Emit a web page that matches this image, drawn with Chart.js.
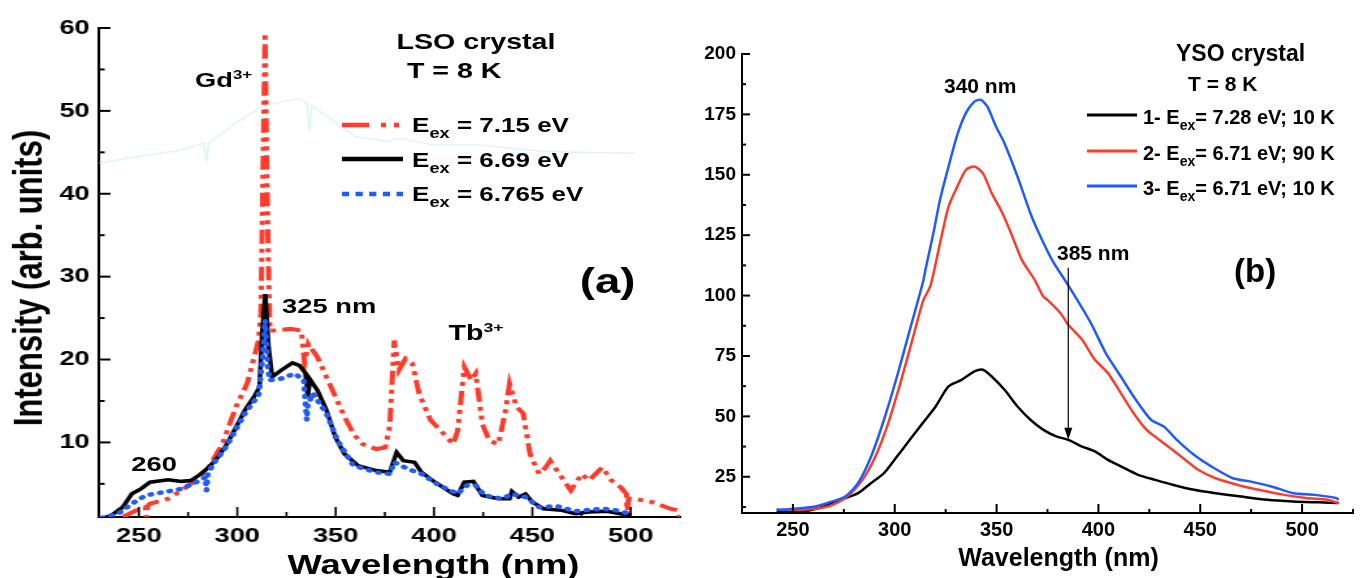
<!DOCTYPE html>
<html>
<head>
<meta charset="utf-8">
<script src="https://cdn.jsdelivr.net/npm/chart.js@4.4.1/dist/chart.umd.min.js"></script>
<style>
  body { margin: 0; background: #fff; width: 1365px; height: 578px; overflow: hidden; position: relative;
         font-family: "Liberation Sans", Arial, sans-serif; font-weight: bold; color: #000; }
  #panelA { position: absolute; left: 0; top: 0; width: 531px; height: 578px; transform: scaleX(1.3); transform-origin: 0 0; }
  #panelB { position: absolute; left: 690px; top: 0; width: 675px; height: 578px; }
  canvas { position: absolute; left: 0; top: 0; }
  .t { position: absolute; white-space: nowrap; line-height: 1; }
  .t sub { font-size: 0.7em; position: relative; top: 0.45em; vertical-align: baseline; line-height: 0; }
  .t sup { font-size: 0.62em; position: relative; top: -0.62em; vertical-align: baseline; line-height: 0; }
  svg { position: absolute; overflow: visible; }
</style>
</head>
<body>
<div id="panelA">
  <canvas id="lsoChart" width="531" height="578"></canvas>
  <div class="t" style="left:305px;top:31px;font-size:22px">LSO crystal</div>
  <div class="t" style="left:313px;top:60px;font-size:22px">T = 8 K</div>
  <div class="t" style="left:150px;top:69px;font-size:21px">Gd<sup>3+</sup></div>
  <svg style="left:263px;top:115px" width="48" height="90">
    <line x1="0" y1="10" x2="47" y2="10" stroke="#ff3b2b" stroke-width="4.5" stroke-dasharray="21 9 4 6 4 6"/>
    <line x1="0" y1="44" x2="47" y2="44" stroke="#000" stroke-width="4.5"/>
    <line x1="0" y1="79" x2="47" y2="79" stroke="#1f5bff" stroke-width="4.5" stroke-dasharray="5.5 5"/>
  </svg>
  <div class="t" style="left:317px;top:115px;font-size:20px">E<sub>ex</sub> = 7.15 eV</div>
  <div class="t" style="left:317px;top:150px;font-size:20px">E<sub>ex</sub> = 6.69 eV</div>
  <div class="t" style="left:317px;top:184px;font-size:20px">E<sub>ex</sub> = 6.765 eV</div>
  <div class="t" style="left:446px;top:263px;font-size:35px">(a)</div>
  <div class="t" style="left:217px;top:295px;font-size:21px">325 nm</div>
  <div class="t" style="left:345px;top:322px;font-size:22px">Tb<sup>3+</sup></div>
  <div class="t" style="left:101px;top:453px;font-size:21px">260</div>
  <div class="t" style="left:21.6px;top:277.5px;font-size:31px;transform:translate(-50%,-50%) rotate(-90deg)">Intensity (arb. units)</div>
  <div class="t" style="left:333.5px;top:551px;font-size:28px;transform:translateX(-50%)">Wavelength (nm)</div>
</div>

<div id="panelB">
  <canvas id="ysoChart" width="675" height="578"></canvas>
  <div class="t" style="left:486px;top:42px;font-size:23px">YSO crystal</div>
  <div class="t" style="left:498px;top:73px;font-size:21px">T = 8 K</div>
  <div class="t" style="left:254px;top:75px;font-size:21px">340 nm</div>
  <div class="t" style="left:367px;top:242px;font-size:21px">385 nm</div>
  <div class="t" style="left:544px;top:254px;font-size:33px">(b)</div>
  <svg style="left:397px;top:105px" width="52" height="90">
    <line x1="0" y1="10" x2="50" y2="10" stroke="#000" stroke-width="3"/>
    <line x1="0" y1="46" x2="50" y2="46" stroke="#ff3b2b" stroke-width="3"/>
    <line x1="0" y1="81" x2="50" y2="81" stroke="#1f5bff" stroke-width="3"/>
  </svg>
  <div class="t" style="left:453px;top:107px;font-size:20px">1- E<sub>ex</sub>= 7.28 eV; 10 K</div>
  <div class="t" style="left:453px;top:143px;font-size:20px">2- E<sub>ex</sub>= 6.71 eV; 90 K</div>
  <div class="t" style="left:453px;top:178px;font-size:20px">3- E<sub>ex</sub>= 6.71 eV; 10 K</div>
  <div class="t" style="left:368.5px;top:545px;font-size:25px;transform:translateX(-50%)">Wavelength (nm)</div>
</div>

<script>
// ---- (a) LSO crystal, T = 8 K ----
const redWl = [241.8, 248.7, 253.2, 253.8, 254.4, 255.6, 264.8, 271.7, 278.6, 285.5, 292.4, 299.3, 305, 310.8, 312, 313.2, 314.1, 315, 316.5, 320, 326.9, 332.6, 334.2, 336.1, 340.7, 345.3, 349.9, 354.5, 359.1, 363.7, 370.6, 375.2, 377.5, 379.8, 382.1, 385.5, 389, 392.4, 398.2, 405.1, 409.7, 412, 415.4, 418.9, 421.2, 424.6, 428.1, 432.7, 436.1, 438.4, 441.9, 445.3, 448.8, 453.4, 456.8, 459.1, 463.7, 469.5, 475.2, 478.7, 485.6, 490.2, 494.8, 497.8, 498.2, 498.8, 501.7, 510.9, 520.1, 524, 525];
const redI = [1.0, 1.8, 2.2, 1.0, 2.3, 2.6, 3.2, 4.2, 5.4, 7.0, 9.8, 14.3, 17.1, 22.3, 25.5, 45, 59.4, 42, 23.5, 23.5, 23.7, 23.5, 19.5, 21.9, 20.3, 17.9, 15.5, 13.1, 11.0, 9.8, 9.2, 9.4, 12, 22.3, 18.7, 20.1, 19.5, 15.9, 12.7, 11.0, 9.8, 11.4, 19.1, 17.5, 18.3, 12.2, 10.2, 9.8, 13.5, 17.1, 14.3, 13.5, 8.6, 6.2, 7.0, 7.8, 6.2, 4.2, 6.2, 5.4, 7.0, 5.4, 4.6, 3.8, 1.2, 3.2, 3.2, 2.8, 2.0, 1.8, 1.0];

const blackWl = [232, 236, 241.8, 246.4, 251, 255.6, 264.8, 271.7, 276.3, 280.9, 285.5, 290.1, 294.7, 299.3, 303.9, 308.5, 311.3, 312.6, 314.2, 315.9, 317.7, 322.3, 328, 331.5, 334.9, 335.8, 337, 340.7, 345.3, 349.9, 354.5, 361.4, 370.6, 377.5, 381, 384.4, 390.1, 393.6, 400.5, 409.7, 412, 415.4, 420, 424.6, 432.7, 438.4, 439.6, 443, 446.5, 450, 455.7, 464.9, 471.8, 478.7, 487.9, 494.8, 500.5];
const blackI = [0.9, 1.2, 2.2, 3.8, 4.4, 5.2, 5.5, 5.3, 5.4, 6.1, 7.0, 8.2, 9.8, 11.8, 13.9, 15.5, 16.7, 23.1, 27.9, 21.5, 17.9, 18.7, 19.6, 19.3, 18.3, 15.5, 17.6, 16.3, 13.9, 10.6, 8.6, 7.2, 6.6, 6.4, 8.8, 7.8, 7.6, 6.4, 5.2, 3.8, 3.6, 5.2, 5.3, 3.6, 3.2, 3.2, 4.1, 3.4, 3.8, 2.8, 2.0, 1.8, 1.4, 1.6, 1.7, 1.4, 1.2];

const blueWl = [231, 239.5, 246.4, 253.3, 262.5, 271.7, 280.9, 283.8, 284.3, 285, 287.8, 294.7, 303.9, 310.8, 312.8, 314.2, 315.5, 316.5, 322.3, 329.2, 333.8, 335.3, 335.8, 338.4, 345.3, 351, 359.1, 370.6, 377.5, 379.8, 386.7, 393.6, 402.8, 412, 416.6, 421.2, 425.8, 435, 439.6, 446.5, 453.4, 462.6, 471.8, 485.6, 492.5, 499.4];
const blueI = [0.9, 1.4, 2.6, 3.6, 4.0, 4.4, 5.4, 5.8, 4.2, 6.2, 7.4, 9.6, 13.5, 15.7, 20, 24.7, 19, 17.5, 17.7, 18.3, 17.5, 12.7, 14.5, 15.9, 13.5, 10.2, 7.2, 6.4, 6.2, 7.6, 6.8, 6.2, 4.8, 3.8, 4.8, 4.8, 3.6, 3.2, 3.8, 3.4, 2.2, 2.3, 1.7, 2.0, 1.8, 1.4];

// faint cyan trace visible behind the legend
const ghostWl = [230, 255, 270, 283, 284.3, 285.5, 299, 313, 327, 331.5, 335.5, 336.5, 338, 346, 360, 376, 383, 399, 422, 456, 502];
const ghostI = [43.7, 44.7, 45.2, 46.1, 43.8, 46.1, 48.5, 50.6, 51.3, 51.5, 51.0, 47.5, 50.6, 49.3, 46.9, 46.3, 46.7, 45.9, 45.9, 45.1, 44.9];

const lsoXTicks = [250, 275, 300, 325, 350, 375, 400, 425, 450, 475, 500];
const lsoYTicks = [5, 10, 15, 20, 25, 30, 35, 40, 45, 50, 55, 60];

// ---- (b) YSO crystal, T = 8 K ----
const yso1Wl = [242, 254.5, 265.1, 273.6, 282, 288.4, 294.7, 301.1, 307.4, 313.7, 320.1, 326.4, 332.8, 339.1, 343.3, 347.6, 353.9, 360.3, 366.6, 373, 379.3, 385.2, 392, 398.3, 404.7, 411, 419.5, 427.9, 436.4, 446.9, 457.5, 470.2, 482.9, 495.6, 508.2, 518];
const yso1I = [10.6, 10.6, 12.7, 15.5, 18.2, 22.4, 26.5, 33.4, 40.3, 47.2, 54.1, 62.4, 65.1, 68.6, 69.3, 66.5, 61, 54.1, 48.6, 44.4, 41.7, 40.3, 37.5, 35.5, 32, 29.3, 25.8, 23.7, 21.7, 19.6, 18.2, 16.8, 15.5, 14.8, 14.4, 14.1];

const yso2Wl = [242, 254.5, 267.2, 275.7, 284.1, 290.5, 296.8, 303.2, 309.5, 314, 317.5, 322.2, 326.4, 330.7, 334.9, 339.1, 343.3, 347.6, 352.9, 357.1, 362.4, 368.7, 372.9, 375, 381.4, 385.2, 392, 398.3, 404.7, 411, 417.3, 423.7, 432.1, 440.6, 449, 457.5, 468.1, 478.6, 491.3, 501.9, 512.5, 518];
const yso2I = [11.3, 11.3, 12.7, 16.2, 23.7, 33.4, 47.2, 65.1, 84.4, 98, 104, 121.6, 136.8, 145.1, 152, 153.4, 150.6, 142.4, 134.1, 125.8, 114.8, 106.5, 99.6, 98.2, 92.7, 87.9, 81.7, 73.4, 67.9, 59.6, 51.3, 44.4, 38.9, 33.4, 27.9, 24.4, 21.7, 19.6, 17.5, 16.2, 15.5, 14.1];

const yso3Wl = [242, 248.2, 260.9, 269.3, 275.7, 282, 288.4, 294.7, 301.1, 307.4, 313.7, 315.4, 319, 322.2, 326.4, 330.7, 334.9, 339.1, 342.3, 345.5, 349.7, 353.9, 360.3, 366.6, 370.8, 377.2, 385.6, 396.3, 403.6, 411, 417.3, 425.8, 432.1, 438.5, 446.9, 455.4, 466, 474.4, 485, 495.6, 506.1, 516.7, 518];
const yso3I = [11.3, 11.6, 12.7, 14.8, 16.8, 22.4, 33.4, 48.6, 66.5, 85.8, 105.1, 112, 126, 139.6, 153.4, 166.5, 175.5, 180.3, 181, 178.2, 170, 163, 149.2, 134.1, 125.8, 114.8, 103.7, 88.6, 76.2, 66.5, 58.2, 48.6, 45.8, 40.3, 34.1, 29.3, 24.4, 23.1, 21, 18.2, 17.5, 16.2, 15.5];

const ysoXTicks = [250, 275, 300, 325, 350, 375, 400, 425, 450, 475, 500, 525];
const ysoYTicks = [12.5, 25, 37.5, 50, 62.5, 75, 87.5, 100, 112.5, 125, 137.5, 150, 162.5, 175, 187.5, 200];

const RED = '#ff3b2b';
const BLUE = '#1f5bff';
const FONT = "'Liberation Sans', Arial, sans-serif";

function pts(xs, ys) {
    return xs.map((x, i) => ({ x: x, y: ys[i] }));
}
function isMajor(v, step) {
    return Math.abs(v / step - Math.round(v / step)) < 1e-6;
}

// tick marks drawn inward, long for labelled ticks, short for the others
const inwardTicks = {
    id: 'inwardTicks',
    afterDraw(chart, args, opts) {
        const ctx = chart.ctx;
        const area = chart.chartArea;
        ctx.save();
        ctx.strokeStyle = '#000';
        ['x', 'y'].forEach(id => {
            const s = chart.scales[id];
            const o = opts[id];
            ctx.lineWidth = o.width;
            s.ticks.forEach(t => {
                const len = isMajor(t.value, o.step) ? o.long : o.short;
                const p = s.getPixelForValue(t.value);
                ctx.beginPath();
                if (id === 'x') {
                    ctx.moveTo(p, area.bottom);
                    ctx.lineTo(p, area.bottom - len);
                } else {
                    ctx.moveTo(area.left, p);
                    ctx.lineTo(area.left + len, p);
                }
                ctx.stroke();
            });
        });
        ctx.restore();
    }
};

// the 385 nm arrow of panel (b)
const markArrow = {
    id: 'markArrow',
    afterDatasetsDraw(chart, args, opts) {
        if (!opts.x) return;
        const ctx = chart.ctx;
        const x = chart.scales.x.getPixelForValue(opts.x);
        const y0 = chart.scales.y.getPixelForValue(opts.from);
        const y1 = chart.scales.y.getPixelForValue(opts.to);
        ctx.save();
        ctx.strokeStyle = '#000';
        ctx.fillStyle = '#000';
        ctx.lineWidth = 1.2;
        ctx.beginPath();
        ctx.moveTo(x, y0);
        ctx.lineTo(x, y1 - 8);
        ctx.stroke();
        ctx.beginPath();
        ctx.moveTo(x, y1);
        ctx.lineTo(x - 4, y1 - 12);
        ctx.lineTo(x + 4, y1 - 12);
        ctx.closePath();
        ctx.fill();
        ctx.restore();
    }
};

function axis(min, max, tickList, step, fontSize, pad, fit) {
    return {
        type: 'linear',
        min: min,
        max: max,
        afterBuildTicks: s => { s.ticks = tickList.map(v => ({ value: v })); },
        afterFit: fit,
        grid: { display: false, drawTicks: false },
        border: { display: true, color: '#000', width: 2 },
        ticks: {
            autoSkip: false,
            padding: pad,
            color: '#000',
            font: { family: FONT, size: fontSize, weight: 'bold' },
            callback: v => isMajor(v, step) ? String(v) : ''
        }
    };
}

new Chart(document.getElementById('lsoChart'), {
    type: 'line',
    data: {
        datasets: [
            { label: 'Eex = 6.765 eV', data: pts(blueWl, blueI), borderColor: BLUE, borderWidth: 4.5, borderDash: [1, 6.5], borderCapStyle: 'round' },
            { label: 'Eex = 6.69 eV', data: pts(blackWl, blackI), borderColor: '#000', borderWidth: 3.5 },
            { label: 'Eex = 7.15 eV', data: pts(redWl, redI), borderColor: RED, borderWidth: 4, borderDash: [14, 5, 4, 5, 4, 5] },
            { label: 'trace', data: pts(ghostWl, ghostI), borderColor: '#dcf5f8', borderWidth: 1.5 }
        ]
    },
    options: {
        responsive: false,
        animation: false,
        layout: { padding: { left: 0, top: 28, right: 8, bottom: 0 } },
        elements: { point: { radius: 0 }, line: { tension: 0 } },
        scales: {
            x: axis(229.6, 525, lsoXTicks, 50, 21, 7, s => { s.height = 61; }),
            y: axis(1, 60, lsoYTicks, 10, 21, 7, s => { s.width = 76; })
        },
        plugins: {
            legend: { display: false },
            tooltip: { enabled: false },
            inwardTicks: {
                x: { step: 50, long: 10, short: 5, width: 1.6 },
                y: { step: 10, long: 9, short: 4.5, width: 2 }
            }
        }
    },
    plugins: [inwardTicks]
});

new Chart(document.getElementById('ysoChart'), {
    type: 'line',
    data: {
        datasets: [
            { label: '3- Eex= 6.71 eV; 10 K', data: pts(yso3Wl, yso3I), borderColor: BLUE, borderWidth: 2.5 },
            { label: '2- Eex= 6.71 eV; 90 K', data: pts(yso2Wl, yso2I), borderColor: RED, borderWidth: 2.5 },
            { label: '1- Eex= 7.28 eV; 10 K', data: pts(yso1Wl, yso1I), borderColor: '#000', borderWidth: 2.5 }
        ]
    },
    options: {
        responsive: false,
        animation: false,
        layout: { padding: { left: 0, top: 54, right: 12, bottom: 0 } },
        elements: { point: { radius: 0 }, line: { tension: 0.25 } },
        scales: {
            x: axis(225, 525, ysoXTicks, 50, 20, 5, s => { s.height = 65; }),
            y: axis(10, 200, ysoYTicks, 25, 19, 6, s => { s.width = 52; })
        },
        plugins: {
            legend: { display: false },
            tooltip: { enabled: false },
            inwardTicks: {
                x: { step: 50, long: 9, short: 4, width: 2 },
                y: { step: 25, long: 8, short: 4, width: 2 }
            },
            markArrow: { x: 385.2, from: 111.5, to: 40.3 }
        }
    },
    plugins: [inwardTicks, markArrow]
});
</script>
</body>
</html>
